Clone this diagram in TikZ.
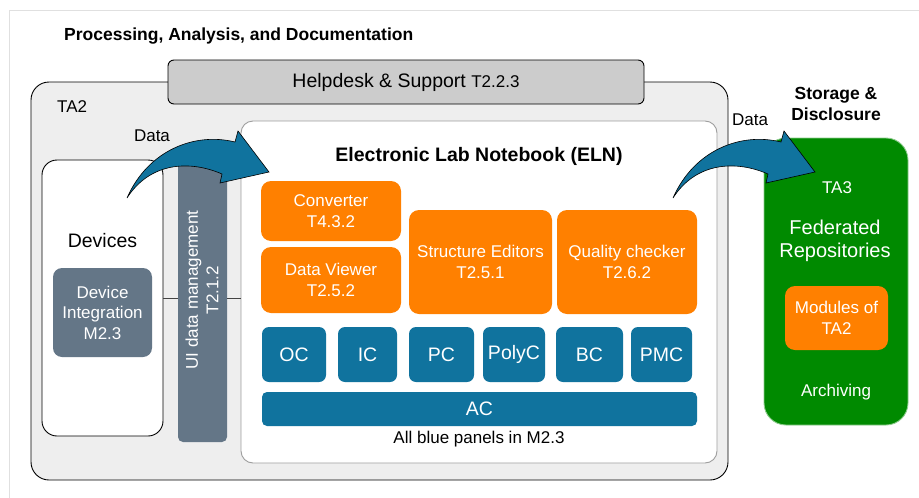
\documentclass[tikz,border=0pt]{standalone}
\usepackage{fontspec}
\setmainfont{Liberation Sans}
\usetikzlibrary{positioning}
\definecolor{elnblue}{HTML}{10739E}
\definecolor{slate}{HTML}{647687}
\definecolor{modorange}{HTML}{FF8000}
\definecolor{repogreen}{HTML}{008A00}
\definecolor{repoborder}{HTML}{8CCB8C}
\definecolor{panelgray}{HTML}{EEEEEE}
\definecolor{helpgray}{HTML}{CCCCCC}
\definecolor{framegray}{HTML}{E0E0E0}
\definecolor{elnborder}{HTML}{9E9E9E}
\definecolor{conngray}{HTML}{444444}
\newcommand{\normaltext}{\fontsize{17}{20.5}\selectfont}
\newcommand{\bigtext}{\fontsize{19.5}{23}\selectfont}
\newcommand{\headtext}{\bfseries\fontsize{17.5}{21}\selectfont}
\tikzstyle{lbl} = [inner sep=0pt, align=center, font=\normaltext]
\tikzstyle{box} = [rectangle, inner sep=0pt, align=center, text=white, font=\normaltext]
\tikzstyle{orangebox} = [box, fill=modorange, rounded corners=10pt]
\tikzstyle{bluebox} = [box, fill=elnblue, rounded corners=7pt, font=\bigtext]
\tikzstyle{slatebox} = [box, fill=slate, rounded corners=9pt]
\tikzstyle{panel} = [rectangle, inner sep=0pt, line width=0.9pt]
\tikzstyle{conn} = [draw=conngray, line width=0.8pt]
\tikzstyle{blockarrow} = [draw=black, fill=elnblue, line width=0.6pt, line join=miter]
\newcommand{\dataarrow}[1]{%
  \draw[blockarrow, shift={(#1,0)}] (127,198) .. controls (148,150) and (195,132) .. (235,142)
    -- (238,131) -- (269,172) -- (220,183) -- (222,174)
    .. controls (190,160) and (150,162) .. cycle;}

\begin{document}
\begin{tikzpicture}[x=1pt, y=-1pt]
	\useasboundingbox (0,0) rectangle (919,498);
	\draw[framegray, line width=0.8pt] (9,498) -- (9,10) -- (919,10);
	
	% title
	\node[lbl, font=\headtext, anchor=west] (title) at (64,36) {Processing, Analysis, and Documentation};
	
	% TA2 panel and helpdesk
	\node[panel, draw=black, fill=panelgray, rounded corners=18pt, minimum width=697pt, minimum height=398pt] (tatwo) at (379.5,281) {};
	\node[panel, draw=black, fill=helpgray, rounded corners=6pt, minimum width=476pt, minimum height=44pt] (helpdesk) at (406,82) {\bigtext Helpdesk \& Support {\normaltext T2.2.3}};
	\node[lbl, anchor=west] (tatwolbl) at (57,107) {TA2};
	
	% devices
	\node[panel, draw=black, fill=white, rounded corners=15pt, minimum width=121pt, minimum height=276pt] (devices) at (102.5,298) {};
	\node[lbl, font=\bigtext] (deviceslbl) at (102.5,241) {Devices};
	\node[slatebox, minimum width=99pt, minimum height=89pt] (devint) at (102.5,312.5) {Device\\Integration\\M2.3};
	
	% UI data management
	\node[slatebox, rounded corners=5pt, minimum width=49pt, minimum height=282pt] (uibar) at (202.5,301) {};
	\node[lbl, text=white, rotate=90] (uilbl) at (202,290) {UI data management\\T2.1.2};
	
	% ELN
	\node[panel, draw=elnborder, fill=white, rounded corners=12pt, minimum width=476pt, minimum height=342pt] (eln) at (479,292) {};
	\node[lbl, font=\bfseries\bigtext] (elntitle) at (479,156) {Electronic Lab Notebook (ELN)};
	
	% connections
	\draw[conn] (devices.east) -- (devices.east -| uibar.west);
	\draw[conn] (uibar.east |- devices.east) -- (devices.east -| eln.west);
	
	% modules
	\node[orangebox, minimum width=140pt, minimum height=60pt] (conv) at (331,211) {Converter\\T4.3.2};
	\node[orangebox, minimum width=140pt, minimum height=66pt] (viewer) at (331,280) {Data Viewer\\T2.5.2};
	\node[orangebox, minimum width=143pt, minimum height=104pt] (editors) at (480.5,262) {Structure Editors\\T2.5.1};
	\node[orangebox, minimum width=140pt, minimum height=104pt] (checker) at (627,262) {Quality checker\\T2.6.2};
	
	% blue panels
	\node[bluebox, minimum width=64pt, minimum height=55pt] (oc) at (294,354.5) {OC};
	\node[bluebox, minimum width=59pt, minimum height=55pt] (ic) at (367.5,354.5) {IC};
	\node[bluebox, minimum width=65pt, minimum height=55pt] (pc) at (441.5,354.5) {PC};
	\node[bluebox, minimum width=62pt, minimum height=55pt] (polyc) at (514,354.5) {PolyC};
	\node[bluebox, minimum width=67pt, minimum height=55pt] (bc) at (589.5,354.5) {BC};
	\node[bluebox, minimum width=61pt, minimum height=55pt] (pmc) at (661.5,354.5) {PMC};
	\node[bluebox, rounded corners=5pt, minimum width=435pt, minimum height=34pt] (ac) at (479.5,409) {AC};
	\node[lbl] (bluelbl) at (479,439) {All blue panels in M2.3};
	
	% storage
	\node[lbl, font=\headtext] (storagelbl) at (836,104) {Storage \&\\Disclosure};
	\node[panel, draw=repoborder, fill=repogreen, rounded corners=22pt, minimum width=144pt, minimum height=287pt] (repo) at (836,281.5) {};
	\node[lbl, text=white] (tathree) at (837,188) {TA3};
	\node[lbl, text=white, font=\fontsize{20}{23.5}\selectfont] (fedrepo) at (835,241) {Federated\\Repositories};
	\node[orangebox, minimum width=103pt, minimum height=64pt] (modules) at (836.5,318) {Modules of\\TA2};
	\node[lbl, text=white] (archiving) at (836,392) {Archiving};
	
	% data arrows
	\dataarrow{0}
	\dataarrow{546}
	\node[lbl] (datain) at (152,136) {Data};
	\node[lbl] (dataout) at (750,120) {Data};
	
\end{tikzpicture}
\end{document}
